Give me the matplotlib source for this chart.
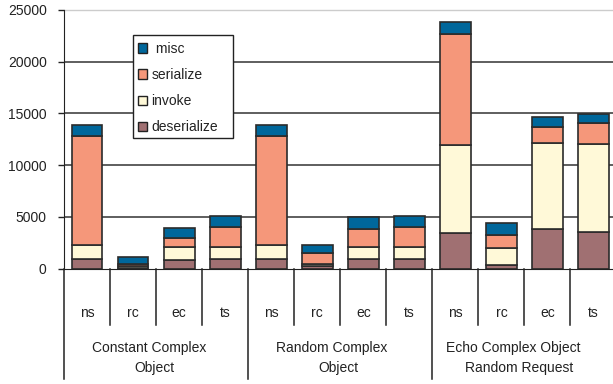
import matplotlib
matplotlib.use("Agg")
import matplotlib.pyplot as plt
from matplotlib.patches import Rectangle, Patch
import matplotlib.transforms as mtransforms
import numpy as np

plt.rcParams['font.family'] = ['Liberation Sans', 'DejaVu Sans']
plt.rcParams['font.size'] = 10

# timings per implementation, three test groups of four bars each
impls = ["ns", "rc", "ec", "ts"] * 3
groups = [["Constant Complex", "Object"],
          ["Random Complex", "Object"],
          ["Echo Complex Object", "Random Request"]]

deserialize = [970, 100, 870, 970, 970, 220, 970, 970, 3420, 360, 3810, 3520]
invoke = [1280, 200, 1200, 1130, 1280, 220, 1130, 1130, 8530, 1610, 8310, 8560]
serialize = [10570, 200, 900, 1960, 10570, 1110, 1710, 1960, 10730, 1290, 1570, 2000]
misc = [1040, 640, 990, 1030, 1040, 740, 1160, 1030, 1180, 1160, 1000, 870]

series = [("deserialize", deserialize, "#a07072"),
          ("invoke", invoke, "#fff9d8"),
          ("serialize", serialize, "#f5977a"),
          ("misc", misc, "#00679b")]

fig = plt.figure(figsize=(6.13, 3.84), dpi=100)
# plot area runs past the right edge of the figure
ax = fig.add_axes([64 / 613, 115.3 / 384, 552.5 / 613, 258.7 / 384])

x = np.arange(len(impls)) + 0.5
bottom = np.zeros(len(impls))
for name, vals, col in series:
    ax.bar(x, vals, width=0.67, bottom=bottom, color=col,
           edgecolor="#2b2b2b", linewidth=1.2, zorder=3)
    bottom += np.array(vals)

ax.set_xlim(0, 12)
ax.set_ylim(0, 25000)
ax.set_yticks(np.arange(0, 25001, 5000))
ax.tick_params(axis='y', direction='out', length=4.1, width=1, pad=8.4,
               colors='#222222')
ax.set_xticks([])
for y in range(5000, 25000, 5000):
    ax.axhline(y, color='#333333', lw=1.1, zorder=1)
ax.axhline(25000, color='#cccccc', lw=1, zorder=1, clip_on=False)

for s in ['top', 'right']:
    ax.spines[s].set_visible(False)
ax.spines['left'].set_color('#222222')
ax.spines['bottom'].set_color('#222222')
ax.spines['left'].set_zorder(4)
ax.spines['bottom'].set_zorder(4)

# category axis below the plot
trans = mtransforms.blended_transform_factory(ax.transData, ax.transAxes)
for b in range(0, 12):
    low = -0.4264 if b % 4 == 0 else -0.2176
    ax.plot([b, b], [0, low], transform=trans, color='#222222', lw=1.1,
            clip_on=False)

for xi, lab in zip(x, impls):
    ax.text(xi, -0.171, lab, transform=trans, ha='center', va='center',
            color='#222222')

label_shift = [0, -0.02, -0.08]
for g, (l1, l2) in enumerate(groups):
    c = 4 * g + 2 + label_shift[g]
    ax.text(c - 0.16, -0.305, l1, transform=trans, ha='center', va='center',
            color='#222222')
    ax.text(c - 0.03, -0.385, l2, transform=trans, ha='center', va='center',
            color='#222222')

# legend box
box = Rectangle((132.5 / 613, 1 - 138.5 / 384), 100.5 / 613, 104 / 384,
                transform=fig.transFigure, facecolor='white',
                edgecolor='#222222', lw=1, zorder=4, clip_on=False)
ax.add_patch(box)
handles = [Patch(facecolor=col, edgecolor='#222222', lw=1,
                 label=(" misc" if name == "misc" else name))
           for name, vals, col in reversed(series)]
leg = ax.legend(handles=handles, loc='upper left',
                bbox_to_anchor=(138 / 613, 1 - 42 / 384),
                bbox_transform=fig.transFigure, frameon=False, borderpad=0,
                borderaxespad=0, handlelength=0.68, handleheight=0.68,
                handletextpad=0.3, labelspacing=0.87)
leg.set_zorder(5)
for t in leg.get_texts():
    t.set_color('#222222')

fig.savefig("out.png", dpi=100)
